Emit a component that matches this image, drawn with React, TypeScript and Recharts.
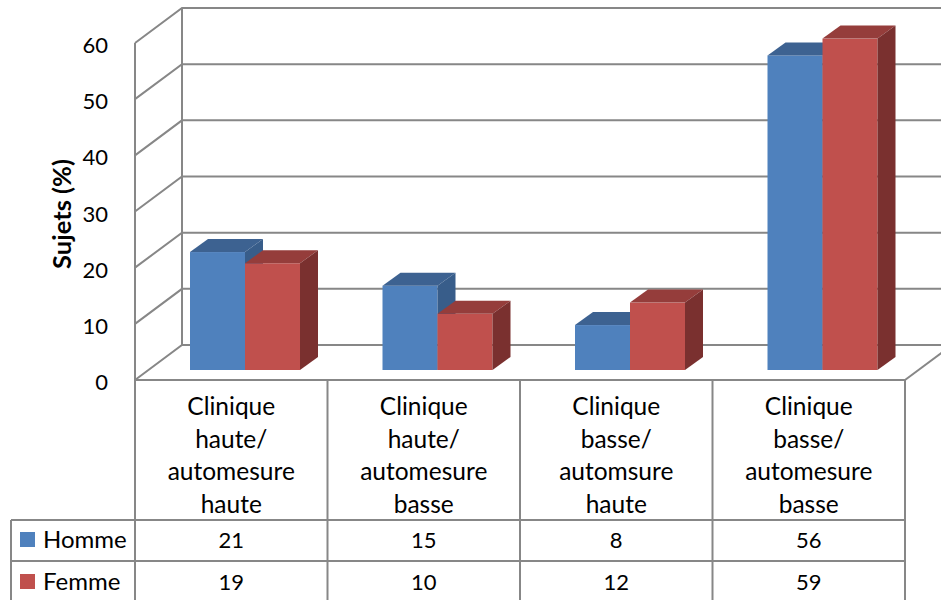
import React from 'react';
import { BarChart, Bar, XAxis, YAxis, CartesianGrid } from 'recharts';

const categories = [
  'Clinique haute/ automesure haute',
  'Clinique haute/ automesure basse',
  'Clinique basse/ automsure haute',
  'Clinique basse/ automesure basse',
];
const homme = [21, 15, 8, 56];
const femme = [19, 10, 12, 59];
const seriesNames = ['Homme', 'Femme'];
const yTicks = [0, 10, 20, 30, 40, 50, 60];
const yTitle = 'Sujets (%)';

const data = categories.map((c, i) => ({ category: c, Homme: homme[i], Femme: femme[i] }));
const seriesValues = [homme, femme];

const W = 941;
const H = 600;
const PLOT_LEFT = 135;
const PLOT_RIGHT = 905;
const PLOT_TOP = 43;
const PLOT_BOTTOM = 380;
const COL_W = (PLOT_RIGHT - PLOT_LEFT) / categories.length;
const DEPTH_X = 47;
const DEPTH_Y = 35;
const BAR_DX = 14;
const BAR_DY = -10;
const BAR_DEPTH_X = 18;
const BAR_DEPTH_Y = 13;
const GRID = '#878787';
const FONT = 'Lato, "Liberation Sans", sans-serif';
const FS_NUM = 22;
const FS_TXT = 24.5;

const colors = [
  { front: '#4F81BD', top: '#3D6291', side: '#385D8A' },
  { front: '#C0504D', top: '#953D3B', side: '#7A302F' },
];

const ROW_HEADER_BOTTOM = 520;
const ROW1_BOTTOM = 561;
const ROW2_BOTTOM = 603;
const LEGEND_LEFT = 11;

const make3DBar = (c: { front: string; top: string; side: string }) => (props: any) => {
  const { x, y, width, height } = props;
  if (width == null || height == null) return <g />;
  const fx = x + BAR_DX;
  const fy = y + BAR_DY;
  return (
    <g>
      <rect x={fx} y={fy} width={width} height={height} fill={c.front} />
      <polygon
        points={`${fx},${fy} ${fx + BAR_DEPTH_X},${fy - BAR_DEPTH_Y} ${fx + width + BAR_DEPTH_X},${fy - BAR_DEPTH_Y} ${fx + width},${fy}`}
        fill={c.top}
      />
      <polygon
        points={`${fx + width},${fy} ${fx + width + BAR_DEPTH_X},${fy - BAR_DEPTH_Y} ${fx + width + BAR_DEPTH_X},${fy + height - BAR_DEPTH_Y} ${fx + width},${fy + height}`}
        fill={c.side}
      />
    </g>
  );
};

const gridLine = (props: any) => {
  const { x1, y1, x2, index } = props;
  const bx = x1 + DEPTH_X;
  const by = y1 - DEPTH_Y;
  const isBottom = Math.abs(y1 - PLOT_BOTTOM) < 1;
  return (
    <g key={`grid-${index}`}>
      <polyline points={`${x1},${y1} ${bx},${by} ${W + 5},${by}`} fill="none" stroke={GRID} strokeWidth={2} />
      <line x1={bx} y1={by} x2={bx} y2={PLOT_BOTTOM - DEPTH_Y} stroke={GRID} strokeWidth={2} />
      {isBottom && <line x1={x2} y1={y1} x2={x2 + DEPTH_X} y2={by} stroke={GRID} strokeWidth={2} />}
    </g>
  );
};

const YTick = (props: any) => {
  const { x, y, payload } = props;
  return (
    <text x={x} y={y + 10} textAnchor="end" fontFamily={FONT} fontSize={FS_NUM} fill="#000">
      {payload.value}
    </text>
  );
};

const XTick = (props: any) => {
  const { x, index, payload } = props;
  const colL = x - COL_W / 2;
  const colR = x + COL_W / 2;
  const lines = String(payload.value).split(' ');
  return (
    <g>
      {index === 0 && (
        <g>
          <line x1={colL} y1={PLOT_BOTTOM} x2={colL} y2={ROW2_BOTTOM} stroke={GRID} strokeWidth={2} />
          <line x1={LEGEND_LEFT} y1={ROW_HEADER_BOTTOM} x2={LEGEND_LEFT} y2={ROW2_BOTTOM} stroke={GRID} strokeWidth={2} />
          <line x1={LEGEND_LEFT} y1={ROW_HEADER_BOTTOM} x2={colL} y2={ROW_HEADER_BOTTOM} stroke={GRID} strokeWidth={2} />
          <line x1={LEGEND_LEFT} y1={ROW1_BOTTOM} x2={colL} y2={ROW1_BOTTOM} stroke={GRID} strokeWidth={2} />
          {seriesNames.map((name, si) => {
            const base = si === 0 ? 548 : 590;
            return (
              <g key={name}>
                <rect x={20} y={base - 16} width={15} height={15} fill={colors[si].front} />
                <text x={43} y={base} fontFamily={FONT} fontSize={FS_TXT - 0.5} fill="#000">
                  {name}
                </text>
              </g>
            );
          })}
        </g>
      )}
      <line x1={colR} y1={PLOT_BOTTOM} x2={colR} y2={ROW2_BOTTOM} stroke={GRID} strokeWidth={2} />
      <line x1={colL} y1={ROW_HEADER_BOTTOM} x2={colR} y2={ROW_HEADER_BOTTOM} stroke={GRID} strokeWidth={2} />
      <line x1={colL} y1={ROW1_BOTTOM} x2={colR} y2={ROW1_BOTTOM} stroke={GRID} strokeWidth={2} />
      {lines.map((ln, li) => (
        <text key={li} x={x} y={415 + li * 32.5} textAnchor="middle" fontFamily={FONT} fontSize={FS_TXT} fill="#000">
          {ln}
        </text>
      ))}
      {seriesValues.map((vals, si) => (
        <text key={`v${si}`} x={x} y={si === 0 ? 548 : 590} textAnchor="middle" fontFamily={FONT} fontSize={FS_NUM} fill="#000">
          {vals[index]}
        </text>
      ))}
    </g>
  );
};

const YLabel = (props: any) => {
  const cx = 61;
  const cy = 214;
  return (
    <text
      x={cx}
      y={cy}
      transform={`rotate(-90 ${cx} ${cy})`}
      textAnchor="middle"
      dominantBaseline="central"
      fontFamily={FONT}
      fontSize={25.5}
      fontWeight="bold"
      fill="#000"
    >
      {yTitle}
    </text>
  );
};

export default function App() {
  return (
    <div style={{ position: 'absolute', left: 0, top: 0, width: W, height: H, background: '#fff' }}>
      <BarChart
        width={W}
        height={H}
        data={data}
        margin={{ top: PLOT_TOP, right: W - PLOT_RIGHT, bottom: 0, left: 25 }}
        barGap={0}
      >
        <CartesianGrid vertical={false} horizontal={gridLine} />
        <XAxis
          dataKey="category"
          height={H - PLOT_BOTTOM}
          interval={0}
          tick={XTick}
          tickLine={false}
          axisLine={{ stroke: GRID, strokeWidth: 2 }}
        />
        <YAxis
          width={PLOT_LEFT - 25}
          domain={[0, 60]}
          ticks={yTicks}
          interval={0}
          tick={YTick}
          tickLine={false}
          tickSize={0}
          tickMargin={27}
          axisLine={{ stroke: GRID, strokeWidth: 2 }}
          label={<YLabel />}
        />
        <Bar dataKey="Homme" name={seriesNames[0]} barSize={55} isAnimationActive={false} shape={make3DBar(colors[0])} />
        <Bar dataKey="Femme" name={seriesNames[1]} barSize={55} isAnimationActive={false} shape={make3DBar(colors[1])} />
      </BarChart>
    </div>
  );
}
